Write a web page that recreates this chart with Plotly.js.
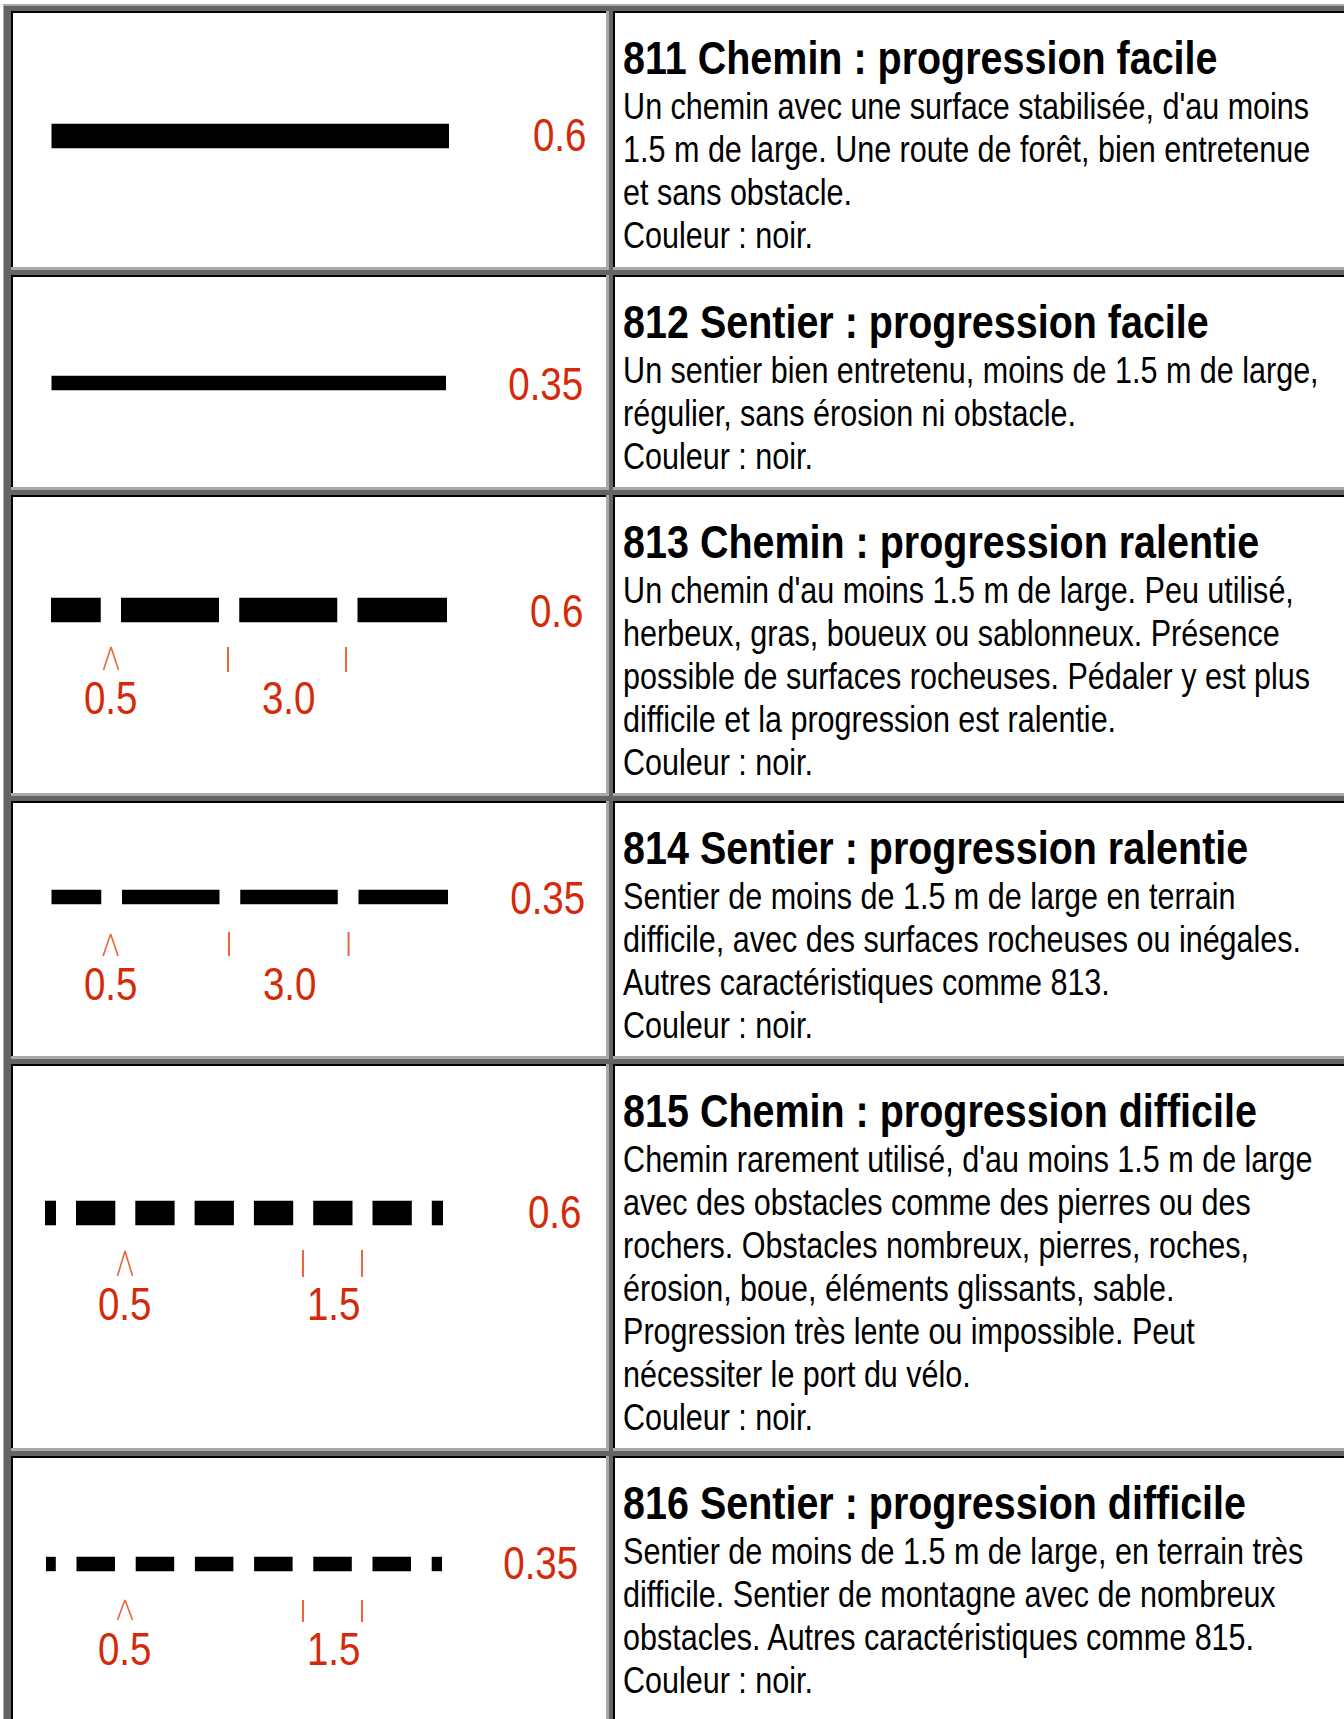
<!DOCTYPE html>
<html><head><meta charset="utf-8">
<script src="https://cdn.plot.ly/plotly-3.0.1.min.js"></script>
<style>html,body{margin:0;padding:0;background:#fff;overflow:hidden}#chart{width:1344px;height:1719px}</style>
</head><body><div id="chart"></div>
<script>
// ---------------- DATA ----------------
const codes = ["811", "812", "813", "814", "815", "816"];
const names = [
  "Chemin : progression facile",
  "Sentier : progression facile",
  "Chemin : progression ralentie",
  "Sentier : progression ralentie",
  "Chemin : progression difficile",
  "Sentier : progression difficile"
];
const descriptions = [
  ["Un chemin avec une surface stabilisée, d'au moins", "1.5 m de large. Une route de forêt, bien entretenue", "et sans obstacle.", "Couleur : noir."],
  ["Un sentier bien entretenu, moins de 1.5 m de large,", "régulier, sans érosion ni obstacle.", "Couleur : noir."],
  ["Un chemin d'au moins 1.5 m de large. Peu utilisé,", "herbeux, gras, boueux ou sablonneux. Présence", "possible de surfaces rocheuses. Pédaler y est plus", "difficile et la progression est ralentie.", "Couleur : noir."],
  ["Sentier de moins de 1.5 m de large en terrain", "difficile, avec des surfaces rocheuses ou inégales.", "Autres caractéristiques comme 813.", "Couleur : noir."],
  ["Chemin rarement utilisé, d'au moins 1.5 m de large", "avec des obstacles comme des pierres ou des", "rochers. Obstacles nombreux, pierres, roches,", "érosion, boue, éléments glissants, sable.", "Progression très lente ou impossible. Peut", "nécessiter le port du vélo.", "Couleur : noir."],
  ["Sentier de moins de 1.5 m de large, en terrain très", "difficile. Sentier de montagne avec de nombreux", "obstacles. Autres caractéristiques comme 815.", "Couleur : noir."]
];
const lineWidthMM = [0.6, 0.35, 0.6, 0.35, 0.6, 0.35];
const dashMM = [null, null, 3.0, 3.0, 1.5, 1.5];
const gapMM = [null, null, 0.5, 0.5, 0.5, 0.5];

// ---------------- LAYOUT / STYLE ----------------
const W = 1344, H = 1719;
const FONT = '"Liberation Sans", Arial, Helvetica, sans-serif';
const LIGHT = '#a9a9a9', DARK = '#646464';
const RED = '#d42a0a', TICK = '#e8663a';
const rowBox = [[11, 270], [275, 490], [495, 796], [801, 1059], [1064, 1451], [1456, 1760]];
const colBox = [[11, 609], [613, 1380]];
const textX = 621;
const titleOff = 44, bodyOff = 93, bodyStep = 43;

const symY = [136, 383, 610, 897, 1213, 1564];
const pxPerMM = 41;
const pattern = [
  {x0: 51.5, x1: 449},
  {x0: 51.5, x1: 446},
  {x0: 51, x1: 447, start: 121, dash: 98, gap: 20.25},
  {x0: 51.5, x1: 448, start: 122, dash: 97.5, gap: 20.75},
  {x0: 45, x1: 443, start: 76, dash: 39.3, gap: 20},
  {x0: 46, x1: 442, start: 76.5, dash: 38.5, gap: 20.7}
];
const wLabelPos = [[559, 134], [545, 383], [556, 610], [547.6, 897], [554, 1211], [540.5, 1562]];
const caretPos = [null, null, [111, 647, 670], [110.6, 934, 956], [125, 1251, 1276], [125, 1600, 1620]];
const tickPos = [null, null, [228, 346, 647, 672], [229, 348.6, 932, 956], [303, 362, 1250, 1277], [303, 362, 1600, 1622]];
const subLabelPos = [null, null, [110, 288, 697], [110, 289, 983], [124.5, 333, 1303], [124.5, 333, 1648]];

// ---------------- SHAPES (table frame) ----------------
const shapes = [];
function rect(x0, y0, x1, y1, fill) {
  shapes.push({type: 'rect', xref: 'x', yref: 'y', x0, y0, x1, y1, fillcolor: fill, line: {width: 0}, layer: 'below'});
}
rect(3, 4, 1400, 1800, LIGHT);
rect(4, 6, 1400, 1800, DARK);
rowBox.forEach(([y0, y1]) => colBox.forEach(([x0, x1]) => {
  rect(x0, y0, x1, y1, LIGHT);
  rect(x0, y0, x1 - 3, y1 - 3, '#000');
  rect(x0 + 2, y0 + 2, x1 - 3, y1 - 3, '#fff');
}));

// ---------------- TRACES / TEXT ----------------
const traces = [];
const annotations = [];
const squeeze = [];   // horizontal squeeze per annotation (narrow typeface look)
function fmt(v, d) { return d ? v.toFixed(d) : String(v); }
function addText(x, y, text, anchor, font, sq) {
  annotations.push({x, y, xref: 'x', yref: 'y', xanchor: anchor, yanchor: 'middle', text, showarrow: false, font});
  squeeze.push(sq);
}

codes.forEach((code, i) => {
  const top = rowBox[i][0] + 2;
  addText(textX, top + titleOff, code + ' ' + names[i], 'left', {family: FONT, size: 47, color: '#000', weight: 'bold'}, 0.84);
  descriptions[i].forEach((ln, j) => {
    addText(textX, top + bodyOff + j * bodyStep, ln, 'left', {family: FONT, size: 37, color: '#000'}, 0.825);
  });
  const p = pattern[i];
  const thick = lineWidthMM[i] * pxPerMM;
  const xs = [], ys = [];
  if (dashMM[i] == null) {
    xs.push(p.x0, p.x1); ys.push(symY[i], symY[i]);
  } else {
    const period = p.dash + p.gap;
    for (let k = Math.floor((p.x0 - p.start) / period) - 1; p.start + k * period < p.x1; k++) {
      const a = Math.max(p.x0, p.start + k * period);
      const b = Math.min(p.x1, p.start + k * period + p.dash);
      if (b > a) { xs.push(a, b, null); ys.push(symY[i], symY[i], null); }
    }
  }
  traces.push({type: 'scatter', mode: 'lines', x: xs, y: ys, line: {color: '#000', width: thick}, hoverinfo: 'skip', connectgaps: false});
  addText(wLabelPos[i][0], wLabelPos[i][1], fmt(lineWidthMM[i]), 'center', {family: FONT, size: 47, color: RED}, 0.82);
  if (dashMM[i] != null) {
    const c = caretPos[i];
    traces.push({type: 'scatter', mode: 'lines', x: [c[0] - 7.5, c[0], c[0] + 7.5], y: [c[2], c[1], c[2]],
      line: {color: TICK, width: 1.6}, hoverinfo: 'skip'});
    const t = tickPos[i];
    traces.push({type: 'scatter', mode: 'lines', x: [t[0], t[0], null, t[1], t[1]], y: [t[2], t[3], null, t[2], t[3]],
      line: {color: TICK, width: 2}, hoverinfo: 'skip', connectgaps: false});
    const s = subLabelPos[i];
    addText(s[0], s[2], fmt(gapMM[i], 1), 'center', {family: FONT, size: 47, color: RED}, 0.82);
    addText(s[1], s[2], fmt(dashMM[i], 1), 'center', {family: FONT, size: 47, color: RED}, 0.82);
  }
});

const layout = {
  width: W, height: H, margin: {l: 0, r: 0, t: 0, b: 0, pad: 0},
  paper_bgcolor: '#fff', plot_bgcolor: '#fff', showlegend: false, hovermode: false,
  xaxis: {range: [0, W], visible: false, fixedrange: true},
  yaxis: {range: [H, 0], visible: false, fixedrange: true},
  shapes, annotations
};
Plotly.newPlot('chart', traces, layout, {displayModeBar: false, staticPlot: true}).then(gd => {
  gd.querySelectorAll('g.annotation').forEach(g => {
    const idx = +g.getAttribute('data-index');
    const ann = annotations[idx];
    const t = g.querySelector('text.annotation-text');
    if (!t || !ann) return;
    const bb = t.getBBox();
    const cx = ann.xanchor === 'left' ? bb.x : bb.x + bb.width / 2;
    const prev = t.getAttribute('transform') || '';
    t.setAttribute('transform', (prev + ' translate(' + cx + ',0) scale(' + squeeze[idx] + ',1) translate(' + (-cx) + ',0)').trim());
  });
});
</script></body></html>
